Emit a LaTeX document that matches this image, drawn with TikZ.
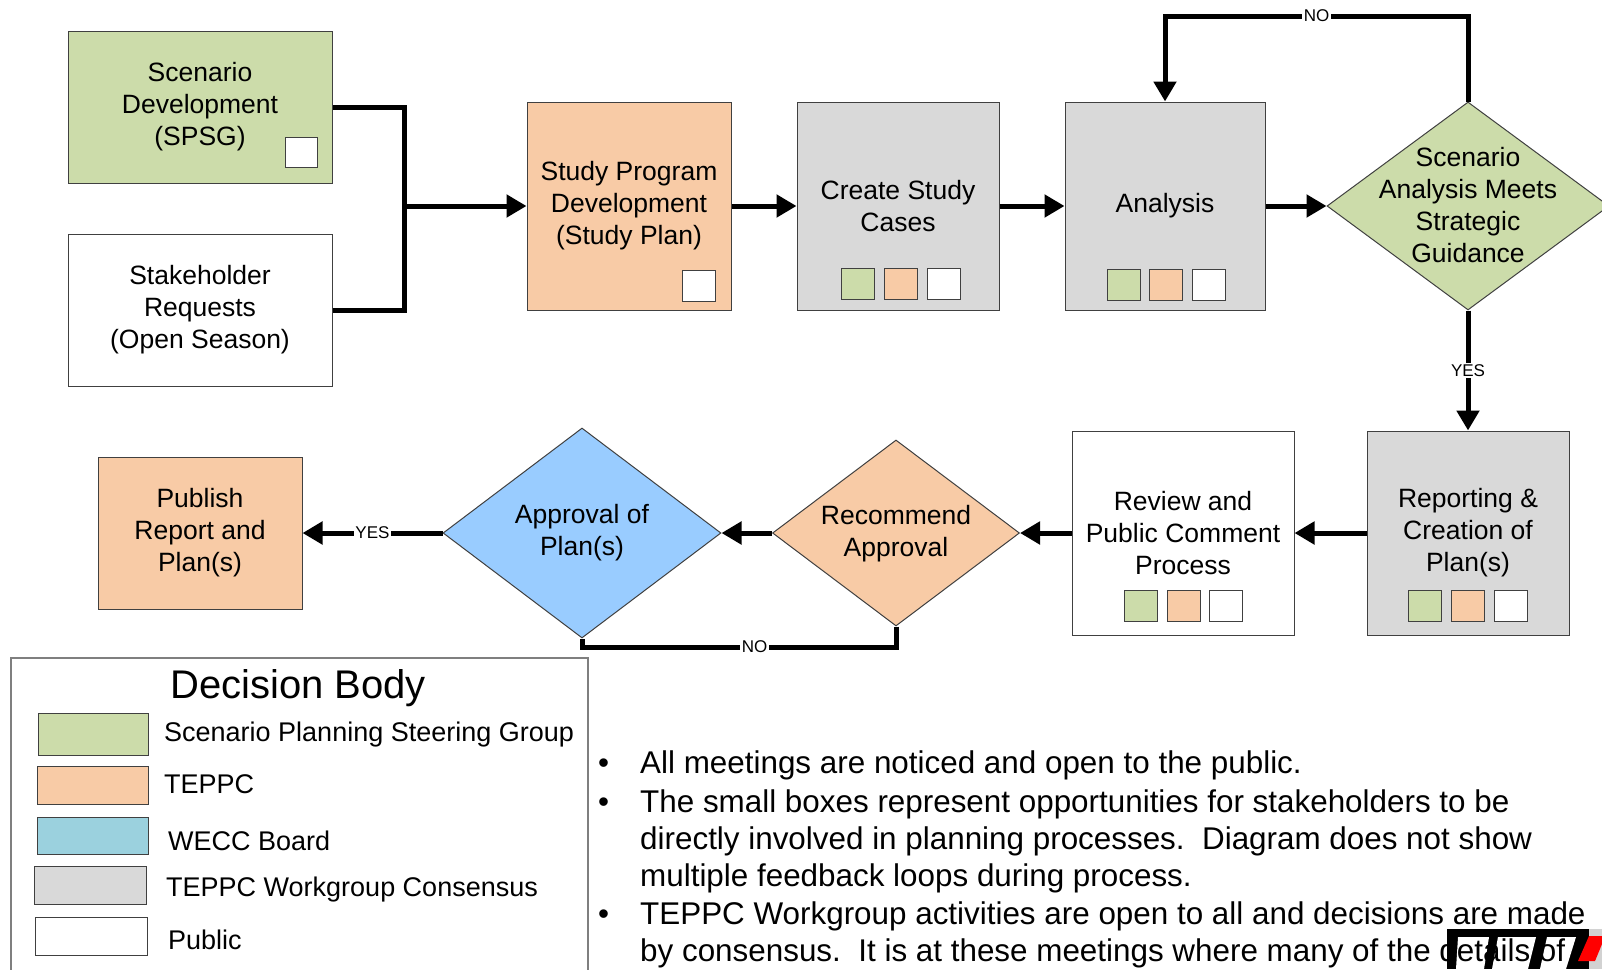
\documentclass[tikz,border=0pt]{standalone}
\usepackage{fontspec}
\setmainfont{Liberation Sans}
\usetikzlibrary{shapes.geometric,arrows.meta}
\definecolor{cgreen}{HTML}{CCDCAA}
\definecolor{corange}{HTML}{F8CBA6}
\definecolor{cgray}{HTML}{D9D9D9}
\definecolor{cblue}{HTML}{99CCFF}
\definecolor{cteal}{HTML}{9BD1DE}
\definecolor{cedge}{HTML}{404040}
\definecolor{cframe}{HTML}{7F7F7F}
\newcommand\boxfont{\fontsize{26.5}{32}\selectfont}
\newcommand\lblfont{\fontsize{17}{20}\selectfont}
\newcommand\legfont{\fontsize{27}{32}\selectfont}
\newcommand\bulfont{\fontsize{31.4}{37.5}\selectfont}
\begin{document}
\begin{tikzpicture}[x=1pt,y=-1pt,
  box/.style={rectangle,draw=cedge,line width=1pt,inner sep=0pt,align=center,font=\boxfont},
  dia/.style={diamond,draw=cedge,line width=1pt,inner sep=0pt},
  mini/.style={rectangle,draw=cedge,line width=1pt,minimum width=33pt,minimum height=31pt,inner sep=0pt},
  swatch/.style={rectangle,draw=cedge,line width=1pt,inner sep=0pt},
  ln/.style={line width=5pt},
  flow/.style={line width=5pt,-{Triangle[length=20pt,width=22pt]}},
  lbl/.style={fill=white,inner sep=1.5pt,font=\lblfont},
  legtxt/.style={anchor=west,inner sep=0pt,font=\legfont},
  bul/.style={anchor=base west,inner sep=0pt,font=\bulfont}]
\useasboundingbox (0,0) rectangle (1602,969);
\clip (0,0) rectangle (1602,969);
\fill[white] (0,0) rectangle (1602,969);

% ---------- top row ----------
\node[box,fill=cgreen,minimum width=264pt,minimum height=152pt] (sd) at (200,107) {Scenario\\Development\\(SPSG)};
\node[mini,fill=white,minimum width=32pt,minimum height=30pt] (sdm) at (301,152) {};
\node[box,fill=white,minimum width=264pt,minimum height=152pt] (sr) at (200,310) {Stakeholder\\Requests\\(Open Season)};
\node[box,fill=corange,minimum width=204pt,minimum height=208pt] (sp) at (629,206) {Study Program\\Development\\(Study Plan)};
\node[mini,fill=white] (spm) at (698.5,285.5) {};
\node[box,fill=cgray,minimum width=202pt,minimum height=208pt] (cs) at (898,206) {Create Study\\Cases};
\node[mini,fill=cgreen] (cs1) at (858,284) {};
\node[mini,fill=corange] (cs2) at (901,284) {};
\node[mini,fill=white] (cs3) at (943.5,284) {};
\node[box,fill=cgray,minimum width=200pt,minimum height=208pt] (an) at (1165,206) {Analysis};
\node[mini,fill=cgreen] (an1) at (1123.5,284.5) {};
\node[mini,fill=corange] (an2) at (1166,284.5) {};
\node[mini,fill=white] (an3) at (1208.5,284.5) {};
\node[dia,fill=cgreen,minimum width=282pt,minimum height=208pt] (dm) at (1468,206) {};
\node[font=\boxfont,align=center] (dmt) at (1468,205) {Scenario\\Analysis Meets\\Strategic\\Guidance};

% ---------- bottom row ----------
\node[box,fill=cgray,minimum width=202pt,minimum height=204pt] (rp) at (1468,533) {Reporting \&\\Creation of\\Plan(s)};
\node[mini,fill=cgreen] (rp1) at (1425,605.5) {};
\node[mini,fill=corange] (rp2) at (1467.5,605.5) {};
\node[mini,fill=white] (rp3) at (1510.5,605.5) {};
\node[box,fill=white,minimum width=222pt,minimum height=204pt] (rv) at (1183,533) {Review and\\Public Comment\\Process};
\node[mini,fill=cgreen] (rv1) at (1141,605.5) {};
\node[mini,fill=corange] (rv2) at (1183.5,605.5) {};
\node[mini,fill=white] (rv3) at (1226,605.5) {};
\node[dia,fill=corange,minimum width=247pt,minimum height=186pt] (rc) at (896,533) {};
\node[font=\boxfont,align=center] (rct) at (896,534) {Recommend\\Approval};
\node[dia,fill=cblue,minimum width=278pt,minimum height=210pt] (ap) at (582,533) {};
\node[font=\boxfont,align=center] (apt) at (582,533) {Approval of\\Plan(s)};
\node[box,fill=corange,minimum width=204pt,minimum height=152pt] (pb) at (200,533) {Publish\\Report and\\Plan(s)};

% ---------- connectors ----------
\coordinate (j) at (404,206);
\coordinate (nt) at (0,16);
\coordinate (lo) at (0,647);
\draw[ln] (sd.east) -| (j);
\draw[ln] (sr.east) -| (j);
\draw[flow] (j) -- (sp.west);
\draw[flow] (sp.east) -- (cs.west);
\draw[flow] (cs.east) -- (an.west);
\draw[flow] (an.east) -- (dm.west);
\draw[flow] (dm.north) -- (dm.north |- nt) -- node[lbl]{NO} (an.north |- nt) -- (an.north);
\draw[flow] (dm.south) -- node[lbl]{YES} (rp.north);
\draw[flow] (rp.west) -- (rv.east);
\draw[flow] (rv.west) -- (rc.east);
\draw[flow] (rc.west) -- (ap.east);
\draw[flow] (ap.west) -- node[lbl]{YES} (pb.east);
\draw[ln] (rc.south) -- (rc.south |- lo) -- node[lbl,pos=0.45]{NO} (ap.south |- lo) -- (ap.south);

% ---------- legend ----------
\node[rectangle,draw=cframe,line width=1.5pt,minimum width=577pt,minimum height=340pt,anchor=north west,inner sep=0pt] (lg) at (10,657) {};
\node[font=\fontsize{40}{48}\selectfont,inner sep=0pt] (lgt) at (298,688) {Decision Body};
\node[swatch,fill=cgreen,minimum width=110pt,minimum height=42pt] (s1) at (93,734.5) {};
\node[swatch,fill=corange,minimum width=111pt,minimum height=38pt] (s2) at (92.5,785) {};
\node[swatch,fill=cteal,minimum width=111pt,minimum height=37pt] (s3) at (92.5,835.5) {};
\node[swatch,fill=cgray,minimum width=112pt,minimum height=38pt] (s4) at (90,885) {};
\node[swatch,fill=white,minimum width=112pt,minimum height=38pt] (s5) at (91,936) {};
\node[legtxt] (l1) at (164,735) {Scenario Planning Steering Group};
\node[legtxt] (l2) at (164,784) {TEPPC};
\node[legtxt] (l3) at (168,841) {WECC Board};
\node[legtxt] (l4) at (166,890) {TEPPC Workgroup Consensus};
\node[legtxt] (l5) at (168,940) {Public};

% ---------- logo fragment ----------
\fill[black] (1447,929) rectangle (1589,969);
\fill[white] (1458,937) -- (1489,937) -- (1484,969) -- (1456,969) -- cycle;
\fill[white] (1498,937) -- (1536,937) -- (1528,969) -- (1492,969) -- cycle;
\fill[white] (1547,937) -- (1576,937) -- (1566,969) -- (1540,969) -- cycle;
\fill[gray!35] (1589,929) rectangle (1602,969);
\fill[red] (1589,936) -- (1602,936) -- (1602,944) -- (1595,961) -- (1578,961) -- cycle;

% ---------- bullets ----------
\node[bul] (b1) at (598,773) {\textbullet};
\node[bul] (t1) at (640,773) {All meetings are noticed and open to the public.};
\node[bul] (b2) at (598,812) {\textbullet};
\node[bul] (t2a) at (640,812) {The small boxes represent opportunities for stakeholders to be};
\node[bul] (t2b) at (640,849) {directly involved in planning processes.\ \ Diagram does not show};
\node[bul] (t2c) at (640,886) {multiple feedback loops during process.};
\node[bul] (b3) at (598,924) {\textbullet};
\node[bul] (t3a) at (640,924) {TEPPC Workgroup activities are open to all and decisions are made};
\node[bul] (t3b) at (640,961) {by consensus.\ \ It is at these meetings where many of the details of};
\end{tikzpicture}
\end{document}
